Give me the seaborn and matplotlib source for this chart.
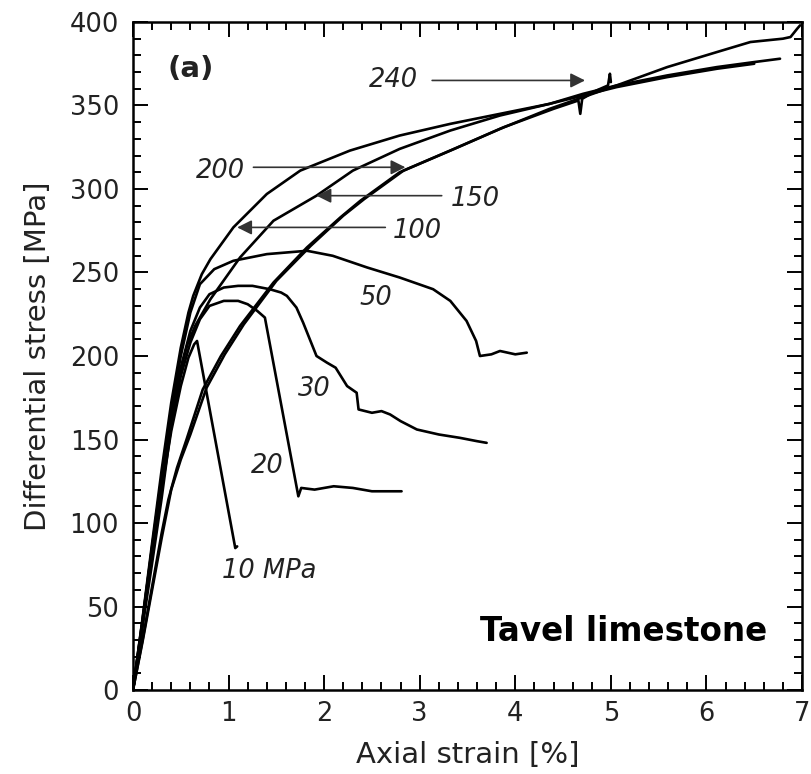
import numpy as np
import pandas as pd
import matplotlib
matplotlib.use("Agg")
import matplotlib.pyplot as plt
from matplotlib.ticker import MultipleLocator
import seaborn as sns

# Stress-strain curves at each confining pressure (strain in %, stress in MPa)
strain_10 = [0, 0.1, 0.2, 0.3, 0.4, 0.5, 0.58, 0.64, 0.67, 1.07, 1.09]
stress_10 = [0, 40, 82, 120, 155, 182, 199, 207, 209, 85, 86]

strain_20 = [0, 0.1, 0.2, 0.3, 0.4, 0.5, 0.6, 0.7, 0.8, 0.95, 1.1, 1.2, 1.3, 1.38,
             1.73, 1.76, 1.9, 2.1, 2.3, 2.5, 2.7, 2.81]
stress_20 = [0, 40, 82, 122, 158, 188, 208, 222, 230, 233, 233, 231, 227, 223,
             116, 121, 120, 122, 121, 119, 119, 119]

strain_30 = [0, 0.1, 0.2, 0.3, 0.4, 0.5, 0.6, 0.7, 0.8, 0.95, 1.1, 1.25, 1.43, 1.55,
             1.61, 1.71, 1.78, 1.85, 1.92, 2.03, 2.12, 2.24, 2.34, 2.36, 2.5, 2.6,
             2.69, 2.8, 2.97, 3.2, 3.42, 3.6, 3.7]
stress_30 = [0, 42, 85, 126, 162, 193, 215, 229, 237, 241, 242, 242, 240, 238,
             236, 229, 220, 210, 200, 196, 193, 182, 178, 168, 166, 167,
             165, 161, 156, 153, 151, 149, 148]

strain_50 = [0, 0.1, 0.2, 0.3, 0.4, 0.5, 0.6, 0.7, 0.85, 1.05, 1.4, 1.82, 2.09, 2.45,
             2.79, 3.14, 3.32, 3.49, 3.59, 3.63, 3.75, 3.84, 4.0, 4.12]
stress_50 = [0, 42, 86, 128, 167, 200, 226, 243, 252, 257, 261, 263, 260, 253,
             247, 240, 233, 221, 209, 200, 201, 203, 201, 202]

strain_100 = [0, 0.1, 0.2, 0.3, 0.4, 0.5, 0.58, 0.63, 0.72, 0.81, 1.05, 1.4, 1.75,
              2.27, 2.79, 3.32, 3.84, 4.36, 4.71, 5.06, 5.59, 6.11, 6.5, 6.77]
stress_100 = [0, 43, 88, 132, 172, 205, 226, 236, 249, 258, 277, 297, 311,
              323, 332, 339, 345, 351, 357, 362, 368, 373, 376, 378]

strain_150 = [0, 0.1, 0.2, 0.3, 0.4, 0.49, 0.57, 0.65, 0.81, 1.12, 1.47, 1.92, 2.3,
              2.79, 3.32, 3.84, 4.36, 4.71, 5.06, 5.59, 6.11, 6.5]
stress_150 = [0, 38, 76, 115, 158, 190, 207, 218, 234, 259, 281, 296, 311,
              324, 335, 344, 351, 356, 361, 367, 372, 375]

strain_200 = [0, 0.1, 0.2, 0.3, 0.37, 0.46, 0.56, 0.73, 0.92, 1.12, 1.47, 1.82, 2.17,
              2.38, 2.79, 3.32, 3.84, 4.36, 4.71, 5.06, 5.59, 6.11, 6.46, 6.8, 6.88,
              6.95, 6.98]
stress_200 = [0, 30, 62, 94, 114, 133, 150, 180, 200, 218, 244, 265, 283,
              293, 310, 323, 336, 348, 355, 362, 373, 382, 388, 390, 391,
              396, 398]

strain_240 = [0, 0.1, 0.2, 0.3, 0.4, 0.5, 0.6, 0.77, 0.96, 1.16, 1.5, 1.86, 2.2, 2.42,
              2.83, 3.36, 3.88, 4.4, 4.66, 4.68, 4.7, 4.85, 4.97, 4.99, 5.0]
stress_240 = [0, 29, 60, 91, 120, 138, 153, 181, 201, 219, 245, 266, 284, 294,
              311, 324, 337, 348, 353, 345, 354, 359, 362, 369, 364]

pressures = [10, 20, 30, 50, 100, 150, 200, 240]
strains = [strain_10, strain_20, strain_30, strain_50,
           strain_100, strain_150, strain_200, strain_240]
stresses = [stress_10, stress_20, stress_30, stress_50,
            stress_100, stress_150, stress_200, stress_240]

frames = []
for p, sx, sy in zip(pressures, strains, stresses):
    frames.append(pd.DataFrame({"strain": sx, "stress": sy,
                                "pressure": p, "order": np.arange(len(sx))}))
df = pd.concat(frames, ignore_index=True)

sns.set_theme(style="ticks")
plt.rcParams["font.family"] = ["DejaVu Sans"]

fig = plt.figure(figsize=(8.12, 7.74), dpi=100)
ax = fig.add_axes([0.1638, 0.1085, 0.8239, 0.8631])

sns.lineplot(data=df, x="strain", y="stress", hue="pressure", units="pressure",
             estimator=None, sort=False, palette=["black"] * len(pressures),
             linewidth=1.9, legend=False, ax=ax)

ax.set_xlim(0, 7)
ax.set_ylim(0, 400)
ax.xaxis.set_major_locator(MultipleLocator(1))
ax.xaxis.set_minor_locator(MultipleLocator(0.2))
ax.yaxis.set_major_locator(MultipleLocator(50))
ax.yaxis.set_minor_locator(MultipleLocator(10))
ax.tick_params(which="both", direction="in", top=True, right=True,
               color="black", width=1.4, labelsize=18.5, labelcolor="#222222")
ax.tick_params(axis="x", which="major", length=11, pad=8)
ax.tick_params(axis="y", which="major", length=11, pad=10)
ax.tick_params(which="minor", length=6)
for s in ax.spines.values():
    s.set_linewidth(1.8)
    s.set_color("black")

ax.set_xlabel("Axial strain [%]", fontsize=21, color="#222222", labelpad=10)
ax.set_ylabel("Differential stress [MPa]", fontsize=21, color="#222222", labelpad=13)

# Pressure labels with arrows
arrow_kw = dict(arrowstyle="-|>", mutation_scale=22, lw=1.2, color="#333333",
                shrinkA=0, shrinkB=0)
lab_kw = dict(fontsize=18.5, style="italic", color="#222222", va="center")

ax.annotate("", xy=(4.73, 365), xytext=(3.13, 365), arrowprops=arrow_kw)
ax.text(2.73, 365, "240", ha="center", **lab_kw)

ax.annotate("", xy=(2.85, 313), xytext=(1.26, 313), arrowprops=arrow_kw)
ax.text(0.91, 311, "200", ha="center", **lab_kw)

ax.annotate("", xy=(1.92, 296), xytext=(3.23, 296), arrowprops=arrow_kw)
ax.text(3.58, 294, "150", ha="center", **lab_kw)

ax.annotate("", xy=(1.09, 277), xytext=(2.64, 277), arrowprops=arrow_kw)
ax.text(2.97, 275, "100", ha="center", **lab_kw)

ax.text(2.54, 235, "50", ha="center", **lab_kw)
ax.text(1.90, 180, "30", ha="center", **lab_kw)
ax.text(1.41, 134, "20", ha="center", **lab_kw)
ax.text(1.43, 71, "10 MPa", ha="center", **lab_kw)

ax.text(0.6, 372, "(a)", fontsize=21, fontweight="bold", ha="center",
        va="center", color="#222222")
ax.text(5.13, 35, "Tavel limestone", fontsize=23.5, fontweight="bold",
        ha="center", va="center", color="black")

fig.savefig("out.png", dpi=100)
